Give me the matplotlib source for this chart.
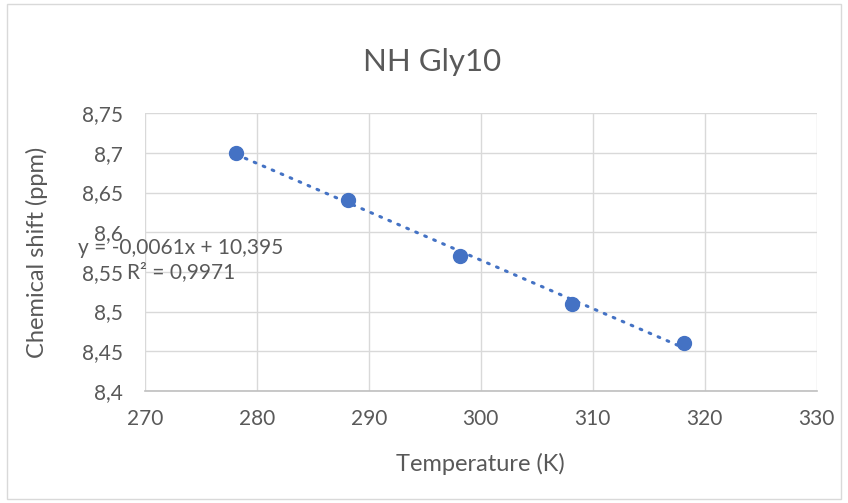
import matplotlib.pyplot as plt
import matplotlib.patches as patches
import numpy as np

temperature = [278.15, 288.15, 298.15, 308.15, 318.15]
shift = [8.70, 8.64, 8.57, 8.51, 8.46]
x_ticks = [270, 280, 290, 300, 310, 320, 330]
y_ticks = [8.40, 8.45, 8.50, 8.55, 8.60, 8.65, 8.70, 8.75]
y_labels = ["8,4", "8,45", "8,5", "8,55", "8,6", "8,65", "8,7", "8,75"]

blue = "#4472C4"
text_gray = "#595959"

plt.rcParams["font.family"] = ["Lato", "DejaVu Sans"]

fig = plt.figure(figsize=(8.48, 5.03), dpi=100)
ax = fig.add_axes([0.171, 0.223, 0.792, 0.552])

# linear trendline (Excel style)
slope, intercept = np.polyfit(temperature, shift, 1)
r2 = np.corrcoef(temperature, shift)[0, 1] ** 2
xs = np.array([temperature[0], temperature[-1]])
ax.plot(xs, slope * xs + intercept, color=blue, linewidth=2.2,
        linestyle=(0, (0.6, 2.6)), dash_capstyle="round", zorder=3)
ax.plot(temperature, shift, "o", color=blue, markersize=10, zorder=4)

ax.set_xlim(270, 330)
ax.set_ylim(8.4, 8.75)
ax.set_xticks(x_ticks)
ax.set_yticks(y_ticks)
ax.set_yticklabels(y_labels)
ax.grid(True, color="#D9D9D9", linewidth=1)
ax.set_axisbelow(True)
for side in ["top", "right", "left"]:
    ax.spines[side].set_visible(False)
ax.spines["bottom"].set_color("#BFBFBF")
ax.spines["bottom"].set_linewidth(1.2)
ax.tick_params(length=0, labelsize=15, colors=text_gray)
ax.tick_params(axis="x", pad=13)
ax.tick_params(axis="y", pad=16)

ax.set_xlabel("Temperature (K)", fontsize=17, color=text_gray)
ax.set_ylabel("Chemical shift (ppm)", fontsize=17, color=text_gray)
ax.xaxis.set_label_coords(0.5, -0.225)
ax.yaxis.set_label_coords(-0.145, 0.5)

fig.text(432 / 848, 1 - 62 / 503, "NH Gly10", ha="center", va="center",
         fontsize=22.5, color=text_gray)

eq = "y = {:.4f}x + {:.3f}\nR² = {:.4f}".format(slope, intercept, r2).replace(".", ",")
fig.text(181 / 848, 1 - 260 / 503, eq, ha="center", va="center",
         fontsize=15, color=text_gray, linespacing=1.2)

fig.patches.append(patches.Rectangle((0.008, 0.008), 0.984, 0.984,
                                     transform=fig.transFigure, fill=False,
                                     edgecolor="#D9D9D9", linewidth=1))

fig.savefig("out.png", dpi=100)
